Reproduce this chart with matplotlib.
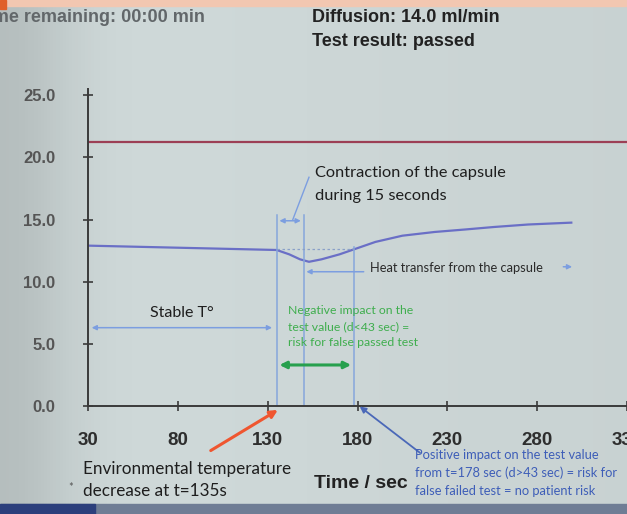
import matplotlib
matplotlib.use("Agg")
import matplotlib.pyplot as plt
import numpy as np

# data
time_s = [30, 60, 90, 120, 135, 142, 148, 153, 160, 170, 178, 190, 205, 223, 240, 256, 275, 299]
temp = [12.9, 12.8, 12.7, 12.6, 12.55, 12.2, 11.8, 11.6, 11.8, 12.2, 12.6, 13.2, 13.7, 14.0, 14.2, 14.4, 14.6, 14.75]
limit_value = 21.2
x_ticks = [30, 80, 130, 180, 230, 280, 330]
y_ticks = [0, 5, 10, 15, 20, 25]
t_drop = 135      # environmental temperature decrease
t_contract = 150  # end of capsule contraction (15 s)
t_positive = 178  # start of positive impact

W, H = 627, 514
fig = plt.figure(figsize=(W / 100, H / 100), dpi=100)

def fx(x):
    return x / W

def fy(y):
    return 1 - y / H

# photo-like background
bg = fig.add_axes([0, 0, 1, 1], zorder=-10)
xs = np.linspace(0, 1, 200)
shade = 1.0 - 0.13 * np.exp(-(xs / 0.12) ** 2) - 0.04 * xs
base = np.array([0.82, 0.86, 0.86])
img = np.ones((2, 200, 3)) * base
img = img * shade[None, :, None]
bg.imshow(img, aspect="auto", extent=[0, 1, 0, 1])
bg.add_patch(plt.Rectangle((0, fy(6)), 1, 6 / H, color="#f2c7b1"))
bg.add_patch(plt.Rectangle((0, fy(9)), 6 / W, 9 / H, color="#e0602a"))
bg.add_patch(plt.Rectangle((0, 0), 1, 10 / H, color="#6f7d95"))
bg.add_patch(plt.Rectangle((0, 0), 95 / W, 10 / H, color="#2c3f7c"))
bg.set_xlim(0, 1)
bg.set_ylim(0, 1)
bg.axis("off")

ax = fig.add_axes([fx(88), fy(406), fx(627 - 88), (406 - 89) / H])
ax.patch.set_alpha(0)
ax.set_xlim(30, 330)
ax.set_ylim(0, 25.5)

ax.plot([30, 330], [limit_value, limit_value], color="#9c3f55", lw=1.6)
ax.plot(time_s, temp, color="#6a6fc6", lw=1.6)

# annotation lines
vline_kw = dict(color="#86a6dc", lw=1.1)
ax.plot([t_drop, t_drop], [0, 15.4], **vline_kw)
ax.plot([t_contract, t_contract], [0, 15.4], **vline_kw)
ax.plot([t_positive, t_positive], [0, 12.8], **vline_kw)
ax.plot([t_drop, t_positive], [12.6, 12.6], color="#8aa0c8", lw=0.9, ls=(0, (2, 2)))

arr_blue = dict(arrowstyle="<|-|>", color="#7c9ee0", lw=1.1, mutation_scale=7)
ax.annotate("", xy=(t_drop, 14.9), xytext=(t_contract, 14.9), arrowprops=arr_blue)
ax.annotate("", xy=(30.5, 6.3), xytext=(t_drop - 1, 6.3), arrowprops=arr_blue)
ax.annotate("", xy=(t_contract, 10.8), xytext=(185, 10.8),
            arrowprops=dict(arrowstyle="-|>", color="#7c9ee0", lw=1.1, mutation_scale=7))
ax.annotate("", xy=(301, 11.2), xytext=(293, 11.2),
            arrowprops=dict(arrowstyle="-|>", color="#7c9ee0", lw=1.1, mutation_scale=7))
ax.plot([144, 153], [15.0, 18.4], color="#7c9ee0", lw=1.0)
ax.annotate("", xy=(t_drop, 3.3), xytext=(t_positive, 3.3),
            arrowprops=dict(arrowstyle="<|-|>", color="#27a04e", lw=2.2, mutation_scale=10))

ax.annotate("", xy=(t_drop + 2, -0.2), xytext=(97, -3.7), annotation_clip=False,
            arrowprops=dict(arrowstyle="-|>", color="#ef5630", lw=2.2, mutation_scale=11))
ax.annotate("", xy=(t_positive + 2, 0.1), xytext=(216, -3.9), annotation_clip=False,
            arrowprops=dict(arrowstyle="-|>", color="#4a68b8", lw=1.3, mutation_scale=9))

# axes styling
for s in ["top", "right"]:
    ax.spines[s].set_visible(False)
for s in ["left", "bottom"]:
    ax.spines[s].set_color("#3a3a3a")
    ax.spines[s].set_linewidth(1.4)
ax.set_xticks(x_ticks)
ax.set_xticklabels([str(v) for v in x_ticks])
ax.set_yticks(y_ticks)
ax.set_yticklabels([f"{v:.1f}" for v in y_ticks])
ax.tick_params(direction="inout", length=7, width=1.2, color="#3a3a3a")
ax.tick_params(axis="x", pad=15, labelsize=13.5, labelcolor="#2e2e2e")
ax.tick_params(axis="y", pad=20, labelsize=12, labelcolor="#555555")
for lbl in ax.get_xticklabels() + ax.get_yticklabels():
    lbl.set_fontfamily("Liberation Sans")
    lbl.set_fontweight("bold")

# texts
top = dict(fontfamily="Liberation Sans", fontweight="bold", fontsize=13, va="center")
fig.text(fx(205), fy(18), "Time remaining: 00:00 min", ha="right", color="#62676a", **top)
fig.text(fx(312), fy(17), "Diffusion: 14.0 ml/min", ha="left", color="#222222", **top)
fig.text(fx(312), fy(42), "Test result: passed", ha="left", color="#222222", **top)

cal = dict(fontfamily="Lato", va="center", ha="left")
fig.text(fx(315), fy(173), "Contraction of the capsule", fontsize=11.8, color="#1e1e1e", **cal)
fig.text(fx(315), fy(196), "during 15 seconds", fontsize=11.8, color="#1e1e1e", **cal)
fig.text(fx(370), fy(268), "Heat transfer from the capsule", fontsize=9.3, color="#2a2a2a", **cal)
fig.text(fx(150), fy(313), "Stable T°", fontsize=11.5, color="#1e1e1e", **cal)
for i, line in enumerate(["Negative impact on the", "test value (d<43 sec) =",
                          "risk for false passed test"]):
    fig.text(fx(288), fy(311 + 16 * i), line, fontsize=8.8, color="#3fae4e", **cal)
fig.text(fx(83), fy(469), "Environmental temperature", fontsize=12.3, color="#1e1e1e", **cal)
fig.text(fx(83), fy(491), "decrease at t=135s", fontsize=12.3, color="#1e1e1e", **cal)
fig.text(fx(68), fy(487), "*", fontsize=8, color="#555555", **cal)
fig.text(fx(314), fy(483), "Time / sec", fontfamily="Liberation Sans", fontweight="bold",
         fontsize=14, color="#222222", va="center", ha="left")
for i, line in enumerate(["Positive impact on the test value",
                          "from t=178 sec (d>43 sec) = risk for",
                          "false failed test = no patient risk"]):
    fig.text(fx(415), fy(455 + 18 * i), line, fontsize=9.3, color="#3e5eb8", **cal)

fig.savefig("out.png", dpi=100)
